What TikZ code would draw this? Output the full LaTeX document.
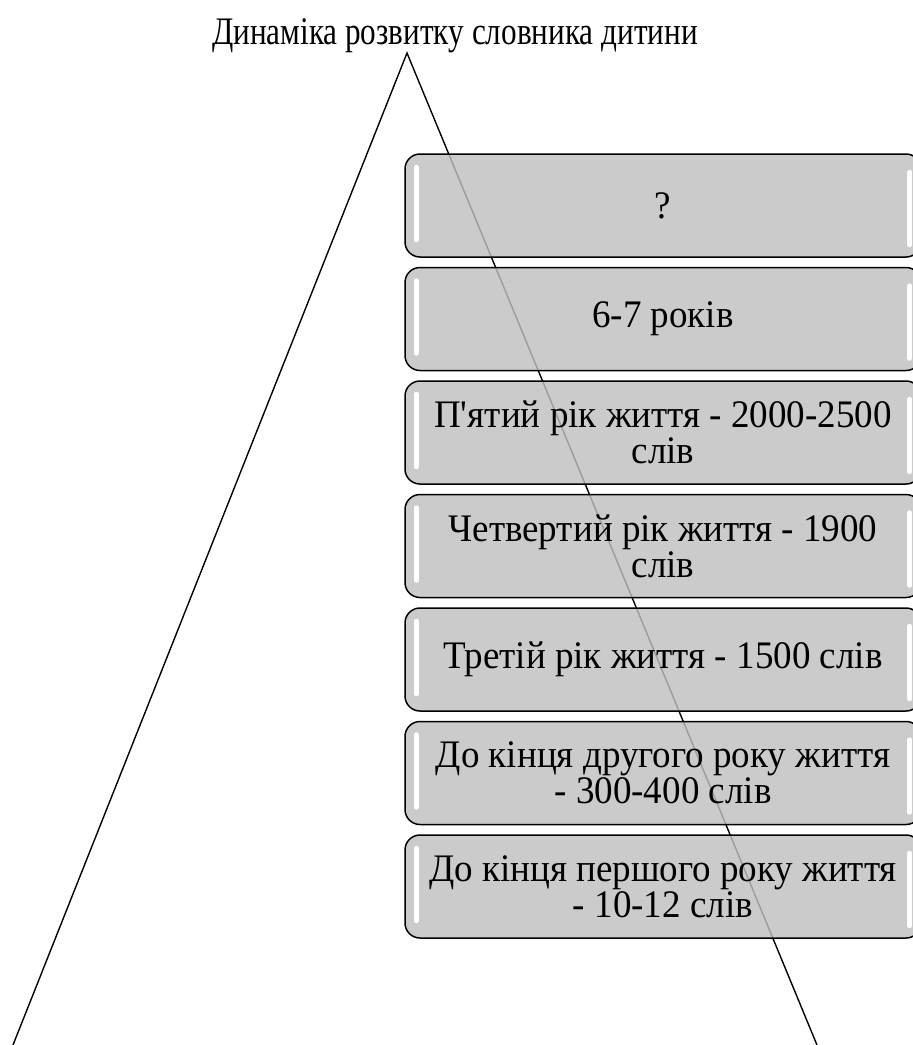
\documentclass[tikz,border=0pt]{standalone}
\usepackage{fontspec}
\setmainfont{Liberation Serif}
\newfontfamily\stagefont[FakeStretch=0.95]{Liberation Serif}
\newfontfamily\titlefont[FakeStretch=0.8]{Liberation Serif}

\tikzset{
	stage/.style={draw=black, line width=1.5pt, rounded corners=15pt,
		fill=black!25, fill opacity=0.82, text opacity=1,
		minimum width=516pt, minimum height=103pt, inner sep=0pt,
		align=center, font=\stagefont\fontsize{39}{36}\selectfont},
	shine/.style={draw=white, line width=5pt, line cap=round},
	edge/.style={draw=black, line width=1.4pt},
	title/.style={anchor=base, font=\titlefont\fontsize{39}{40}\selectfont}
}

\begin{document}
\begin{tikzpicture}[x=1pt,y=-1pt]
\useasboundingbox (0,0) rectangle (913,1045);

\node[title] (title) at (455,44) {Динаміка розвитку словника дитини};

\coordinate (top) at (407,53);
\coordinate (left) at (13,1045);
\coordinate (right) at (817,1045);
\draw[edge] (left) -- (top) -- (right);

\foreach \i/\txt in {1/{?}, 2/{6-7 років},
	3/{П\textquotesingle ятий рік життя - 2000-2500\\слів},
	4/{Четвертий рік життя - 1900\\слів},
	5/{Третій рік життя - 1500 слів},
	6/{До кінця другого року життя\\- 300-400 слів},
	7/{До кінця першого року життя\\- 10-12 слів}}{
	\node[stage] (b\i) at (663,{205.5+(\i-1)*113.5}) {\txt};
	\draw[shine] ([xshift=12pt,yshift=-14pt]b\i.north west) -- ([xshift=12pt,yshift=18pt]b\i.south west);
	\draw[shine] ([xshift=-12pt,yshift=-19pt]b\i.north east) -- ([xshift=-12pt,yshift=13pt]b\i.south east);
}
\end{tikzpicture}
\end{document}
